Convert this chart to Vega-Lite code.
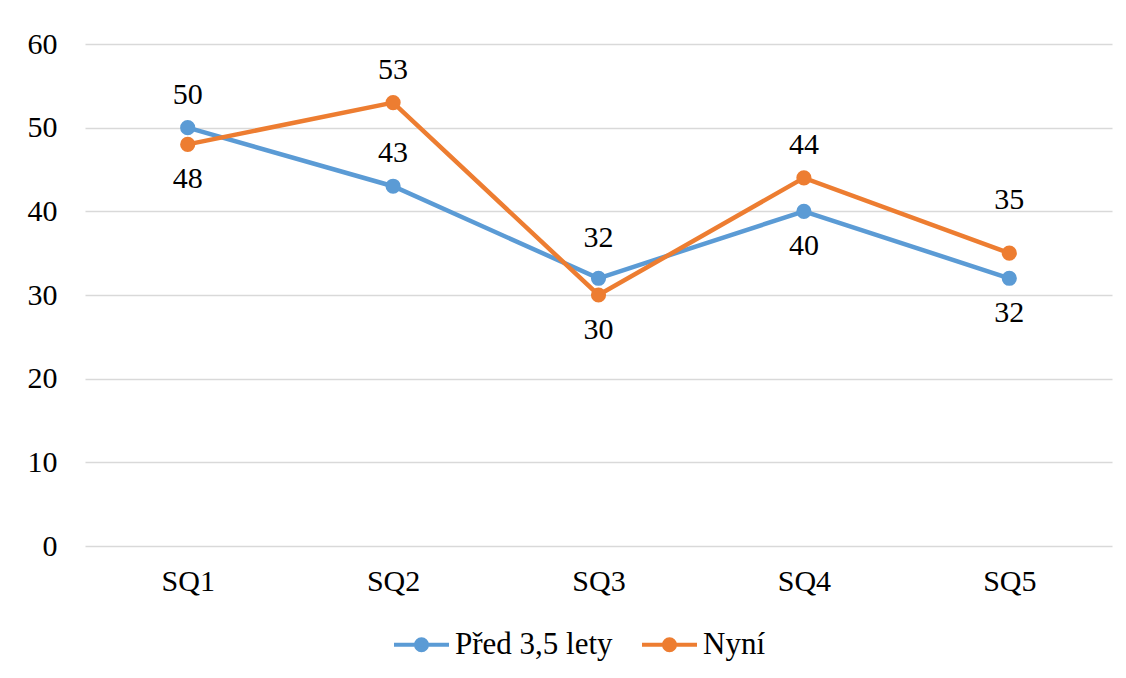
{
  "$schema": "https://vega.github.io/schema/vega-lite/v6.json",
  "width": 1027,
  "height": 502,
  "autosize": {"type": "none"},
  "padding": {"left": 85, "top": 44, "right": 14, "bottom": 132},
  "background": "white",
  "config": {
    "font": "Liberation Serif",
    "view": {"stroke": null},
    "axis": {"labelFont": "Liberation Serif", "labelFontSize": 30, "labelColor": "#000000", "ticks": false, "domain": false, "title": null},
    "legend": {"labelFont": "Liberation Serif", "labelFontSize": 31, "labelColor": "#000000"}
  },
  "data": {
    "values": [
      {"q": "SQ1", "series": "Před 3,5 lety", "value": 50},
      {"q": "SQ2", "series": "Před 3,5 lety", "value": 43},
      {"q": "SQ3", "series": "Před 3,5 lety", "value": 32},
      {"q": "SQ4", "series": "Před 3,5 lety", "value": 40},
      {"q": "SQ5", "series": "Před 3,5 lety", "value": 32},
      {"q": "SQ1", "series": "Nyní", "value": 48},
      {"q": "SQ2", "series": "Nyní", "value": 53},
      {"q": "SQ3", "series": "Nyní", "value": 30},
      {"q": "SQ4", "series": "Nyní", "value": 44},
      {"q": "SQ5", "series": "Nyní", "value": 35}
    ]
  },
  "encoding": {
    "x": {"field": "q", "type": "nominal", "scale": {"paddingInner": 0, "paddingOuter": 0}, "axis": {"labelAngle": 0, "labelPadding": 20, "grid": false}},
    "y": {"field": "value", "type": "quantitative", "scale": {"domain": [0, 60], "nice": false, "zero": true}, "axis": {"values": [0, 10, 20, 30, 40, 50, 60], "labelPadding": 28, "grid": true, "gridColor": "#D9D9D9", "gridWidth": 1.3}},
    "color": {"field": "series", "type": "nominal", "sort": ["Před 3,5 lety", "Nyní"], "scale": {"domain": ["Před 3,5 lety", "Nyní"], "range": ["#5B9BD5", "#ED7D31"]},
      "legend": {"orient": "none", "legendX": 307, "legendY": 571, "direction": "horizontal", "title": null, "labelOffset": 4, "columnPadding": 21, "symbolType": "M-1,0L1,0M-0.2,0A0.2,0.2,0,1,0,0.2,0A0.2,0.2,0,1,0,-0.2,0Z", "symbolSize": 3025, "symbolStrokeWidth": 4,
        "encode": {"symbols": {"update": {"fill": {"scale": "color", "field": "value"}, "stroke": {"scale": "color", "field": "value"}, "strokeWidth": {"value": 4}, "opacity": {"value": 1}}}}}
    }
  },
  "layer": [
    {
      "mark": {"type": "line", "strokeWidth": 4.5}
    },
    {
      "mark": {"type": "point", "filled": true, "size": 230, "opacity": 1}
    },
    {
      "transform": [{"filter": "(datum.series == 'Před 3,5 lety' && (datum.q == 'SQ1' || datum.q == 'SQ2')) || (datum.series == 'Nyní' && (datum.q == 'SQ2' || datum.q == 'SQ4'))"}],
      "mark": {"type": "text", "fontSize": 30, "baseline": "alphabetic", "dy": -24, "color": "#000000"},
      "encoding": {"text": {"field": "value", "type": "quantitative"}, "color": {"value": "#000000"}}
    },
    {
      "transform": [{"filter": "(datum.series == 'Před 3,5 lety' && (datum.q == 'SQ4' || datum.q == 'SQ5')) || (datum.series == 'Nyní' && (datum.q == 'SQ1' || datum.q == 'SQ3'))"}],
      "mark": {"type": "text", "fontSize": 30, "baseline": "alphabetic", "dy": 44, "color": "#000000"},
      "encoding": {"text": {"field": "value", "type": "quantitative"}, "color": {"value": "#000000"}}
    },
    {
      "transform": [{"filter": "datum.series == 'Před 3,5 lety' && datum.q == 'SQ3'"}],
      "mark": {"type": "text", "fontSize": 30, "baseline": "alphabetic", "dy": -31, "color": "#000000"},
      "encoding": {"text": {"field": "value", "type": "quantitative"}, "color": {"value": "#000000"}}
    },
    {
      "transform": [{"filter": "datum.series == 'Nyní' && datum.q == 'SQ5'"}],
      "mark": {"type": "text", "fontSize": 30, "baseline": "alphabetic", "dy": -44, "color": "#000000"},
      "encoding": {"text": {"field": "value", "type": "quantitative"}, "color": {"value": "#000000"}}
    }
  ]
}
